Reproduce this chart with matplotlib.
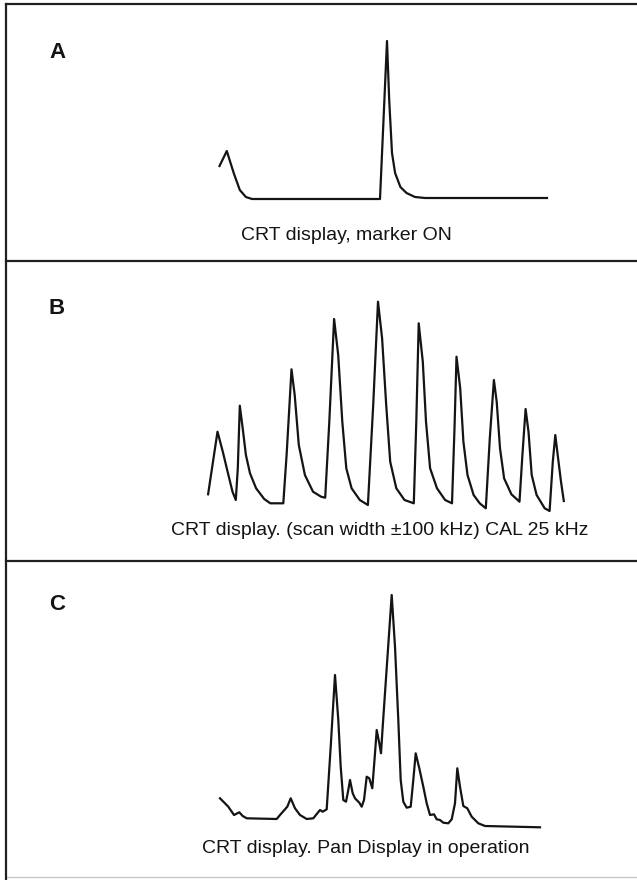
import matplotlib
matplotlib.use("Agg")
import matplotlib.pyplot as plt
from matplotlib.lines import Line2D

plt.rcParams['font.family'] = ['Liberation Sans', 'DejaVu Sans']

W, H = 637, 880

# ---------------- data ----------------
# Panel A: marker ON
a_freq = [219.5, 226.8, 233.7, 239.8, 245.9, 252.0, 380.0, 387.0, 389.2, 392.0,
          395.1, 400.4, 406.5, 415.0, 425.0, 547.0]
a_level = [33, 48, 26, 9, 2, 0, 0, 158, 99, 46, 26, 12, 6, 2, 1, 1]

# Panel B: scan width +/-100 kHz, CAL 25 kHz
b_freq = [208.1, 217.5, 222.8, 227.6, 232.5, 235.8,
          237.8, 239.8, 242.7, 245.9, 250.0, 256.1, 264.2, 270.3, 283.3,
          286.6, 291.5, 294.7, 298.8, 304.9, 313.0, 321.1, 325.2,
          329.3, 334.1, 338.2, 342.3, 346.3, 351.6, 359.8, 367.9,
          373.2, 378.0, 382.1, 386.2, 390.2, 396.3, 404.5, 413.8,
          416.3, 418.7, 422.8, 426.0, 430.1, 437.0, 445.1, 452.0,
          454.5, 456.5, 460.2, 463.4, 467.5, 473.6, 479.7, 485.8,
          489.8, 493.9, 496.7, 500.0, 504.1, 511.4, 519.5,
          522.4, 525.6, 528.5, 531.7, 536.6, 544.7, 549.6,
          552.8, 555.3, 557.7, 561.0, 563.8]
b_ypx = [494.3, 431.7, 451.7, 471.7, 491.7, 500.0,
         468.3, 405.7, 428.3, 455.0, 473.3, 488.3, 499.0, 503.3, 503.3,
         455.0, 369.3, 395.0, 445.0, 475.0, 491.7, 496.7, 497.7,
         421.7, 319.0, 355.0, 421.7, 468.3, 488.3, 500.0, 505.0,
         405.0, 301.7, 338.3, 405.0, 461.7, 488.3, 500.0, 503.3,
         421.7, 323.3, 361.7, 421.7, 468.3, 488.3, 500.0, 503.3,
         428.3, 356.7, 388.3, 441.7, 475.0, 495.0, 503.3, 508.3,
         438.3, 380.0, 401.7, 448.3, 478.3, 494.3, 501.7,
         455.0, 409.0, 431.7, 475.0, 495.0, 508.3, 511.0,
         461.7, 435.0, 455.0, 481.7, 501.0]
b_level = [511 - v for v in b_ypx]

# Panel C: Pan Display in operation
c_freq = [220.0, 228.3, 234.0, 239.3, 242.7, 246.7, 276.7, 280.0, 285.0, 287.3,
          290.7, 295.0, 300.0, 306.7, 313.3, 317.3, 320.0, 322.7, 326.7, 330.7,
          335.0, 338.3, 340.7, 343.3, 346.0, 348.3, 350.0, 352.7, 355.0, 359.3,
          361.7, 364.0, 366.7, 369.3, 372.3, 375.0, 376.7, 379.3, 381.0, 382.7,
          391.7, 395.0, 398.3, 400.7, 403.3, 406.7, 410.7, 413.3, 415.7, 419.3,
          423.3, 426.7, 430.0, 434.0, 436.7, 440.0, 443.3, 448.3, 451.7, 455.0,
          457.3, 460.0, 463.3, 467.3, 471.7, 478.3, 485.0, 540.0]
c_ypx = [798.3, 806.7, 815.0, 812.3, 816.0, 818.3, 819.0, 815.0, 809.3, 806.7,
         798.3, 808.3, 815.0, 819.0, 818.3, 813.3, 810.0, 811.7, 809.3, 746.7,
         675.0, 720.0, 766.7, 800.0, 801.7, 790.0, 780.0, 793.3, 798.3, 802.7,
         806.7, 800.0, 776.7, 778.3, 788.3, 753.3, 730.0, 743.3, 753.3, 726.7,
         595.0, 646.7, 720.0, 780.0, 801.7, 807.7, 806.7, 780.0, 753.3, 768.3,
         786.7, 803.3, 815.0, 814.3, 819.3, 820.0, 822.7, 823.3, 819.3, 803.3,
         768.3, 786.7, 806.0, 808.3, 816.7, 823.3, 826.0, 827.3]
c_level = [827.3 - v for v in c_ypx]

labels = ["A", "B", "C"]
captions = ["CRT display, marker ON",
            "CRT display. (scan width \u00b1100 kHz) CAL 25 kHz",
            "CRT display. Pan Display in operation"]

# ---------------- layout ----------------
fig = plt.figure(figsize=(W / 100, H / 100), dpi=100)
fig.patch.set_facecolor('white')

def fx(x):
    return x / W

def fy(y):
    return 1 - y / H

panels = [  # top px, bottom px, baseline px
    (4, 261, 199),
    (261, 561, 511),
    (561, 877, 827.3),
]
series = [(a_freq, a_level), (b_freq, b_level), (c_freq, c_level)]
label_pos = [(57, 53), (57, 308), (57, 605)]
caption_pos = [(346, 236), (380, 530), (366, 848)]

ink = '#141414'
for (top, bot, base), (xs, ys), lab, lp, cap, cp in zip(panels, series, labels,
                                                       label_pos, captions, caption_pos):
    ax = fig.add_axes([0, fy(bot), 1, (bot - top) / H])
    ax.set_xlim(0, W)
    ax.set_ylim(base - bot, base - top)
    ax.axis('off')
    ax.plot(xs, ys, color=ink, lw=1.6, solid_joinstyle='round')
    fig.text(fx(lp[0]), fy(lp[1]), lab, ha='center', va='center',
             fontsize=16, fontweight='bold', color=ink)
    fig.text(fx(cp[0]), fy(cp[1]), cap, ha='center', va='center',
             fontsize=14, color=ink)

# borders
for y in (4, 261, 561):
    fig.add_artist(Line2D([fx(6), 1], [fy(y), fy(y)], color='#202020', lw=1.6))
fig.add_artist(Line2D([fx(6), 1], [fy(877), fy(877)], color='#c8c8c8', lw=1.0))
fig.add_artist(Line2D([fx(6), fx(6)], [fy(4), 0], color='#202020', lw=1.6))

fig.savefig('out.png', dpi=100, facecolor='white')
